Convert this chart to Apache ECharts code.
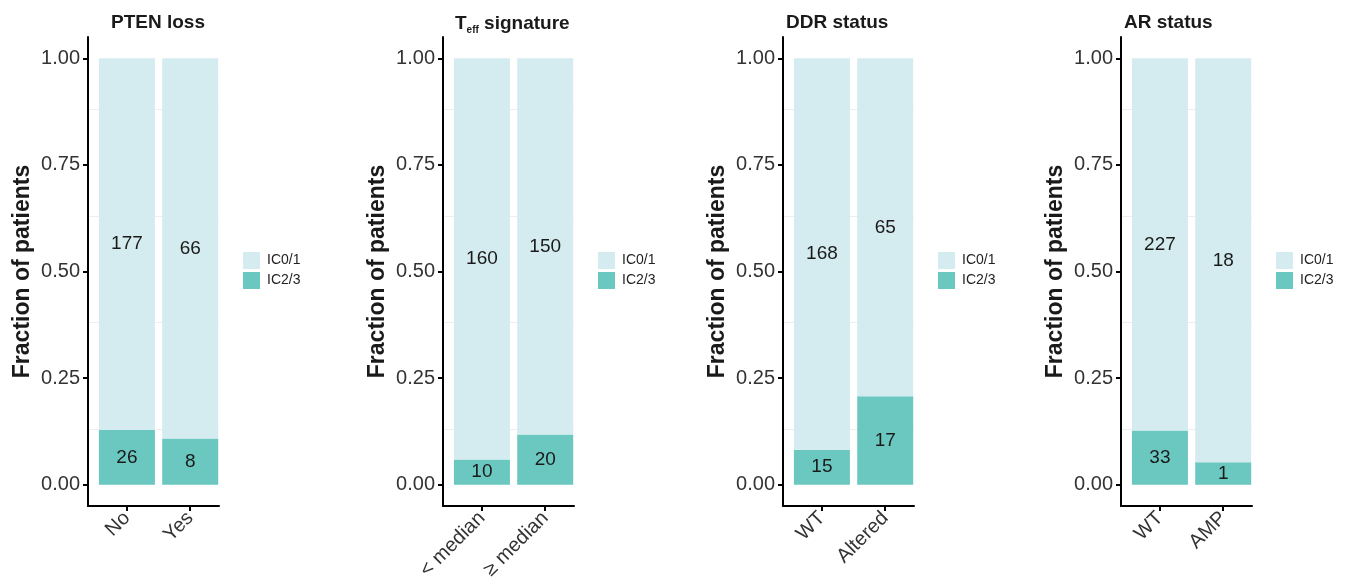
<!DOCTYPE html>
<html>
<head>
<meta charset="utf-8">
<script src="https://cdn.jsdelivr.net/npm/echarts@6/dist/echarts.min.js"></script>
<style>
  html, body { margin: 0; padding: 0; background: #ffffff; }
  #chart { width: 1348px; height: 578px; }
</style>
</head>
<body>
<div id="chart"></div>
<script>
// Panel titles (rich text for the T_eff subscript)
const panelTitles = ['PTEN loss', '{t|T}{sub|eff}{t| signature}', 'DDR status', 'AR status'];
// Categories in each panel
const categories = [
  ['No', 'Yes'],
  ['< median', '\u2265 median'],
  ['WT', 'Altered'],
  ['WT', 'AMP']
];
// Patient counts per category
const countsIC01 = [[177, 66], [160, 150], [168, 65], [227, 18]];
const countsIC23 = [[26, 8], [10, 20], [15, 17], [33, 1]];
// Y axis tick values and faint reference lines
const yTicks = [0, 0.25, 0.5, 0.75, 1];
const minorLines = [0.125, 0.375, 0.625, 0.875];
const legendNames = ['IC0/1', 'IC2/3'];

const COLOR_LOW = '#d4ecef';
const COLOR_HIGH = '#6bc8c1';
const TEXT = '#1a1a1a';
const FONT = 'Liberation Sans, Arial, sans-serif';

// layout per panel
const axisLeft = [88, 443, 783, 1121];
const titleLeft = [111, 455, 786, 1124];
const legendLeft = [243, 598, 938, 1276];
const panelWidth = 131;
const gridTop = 37;
const gridHeight = 469;

const grids = [], xAxes = [], yAxes = [], series = [], titles = [], legends = [];

categories.forEach((cats, i) => {
  const totals = cats.map((_, j) => countsIC01[i][j] + countsIC23[i][j]);
  grids.push({
    left: axisLeft[i], top: gridTop, width: panelWidth, height: gridHeight,
    outerBoundsMode: 'none', containLabel: false
  });

  xAxes.push({
    type: 'value', gridIndex: i, min: 0.385, max: 2.455,
    splitLine: { show: false },
    axisLine: { show: true, onZero: false, lineStyle: { color: '#000', width: 2 } },
    axisTick: { show: true, customValues: [1, 2], length: 5, lineStyle: { color: '#000', width: 2 } },
    axisLabel: {
      customValues: [1, 2], rotate: 45, margin: 9,
      fontSize: 20, color: '#333', fontFamily: FONT,
      formatter: v => cats[Math.round(v) - 1]
    }
  });

  yAxes.push({
    type: 'value', gridIndex: i, min: -0.05, max: 1.05,
    name: 'Fraction of patients', nameLocation: 'middle', nameRotate: 90, nameGap: 54,
    nameTextStyle: { fontSize: 23, fontWeight: 'bold', color: TEXT, fontFamily: FONT },
    splitLine: { show: false },
    axisLine: { show: true, onZero: false, lineStyle: { color: '#000', width: 2 } },
    axisTick: { show: true, customValues: yTicks, length: 5, lineStyle: { color: '#000', width: 2 } },
    axisLabel: {
      customValues: yTicks, margin: 8,
      fontSize: 20, color: '#333', fontFamily: FONT,
      formatter: v => v.toFixed(2)
    }
  });

  // faint horizontal reference lines behind the bars
  series.push({
    type: 'line', xAxisIndex: i, yAxisIndex: i, data: [], z: 0, silent: true,
    markLine: {
      silent: true, symbol: 'none', label: { show: false }, z: 0,
      lineStyle: { color: '#eeeeee', width: 1, type: 'solid' },
      data: minorLines.map(v => ({ yAxis: v }))
    }
  });

  // each row: [fraction, category position]; fraction listed first so it is the stacked dimension
  const barSeries = (name, counts, color) => ({
    name, type: 'bar', stack: 'p' + i, xAxisIndex: i, yAxisIndex: i,
    dimensions: ['frac', 'pos'],
    encode: { x: 'pos', y: 'frac' },
    barWidth: 56, z: 3,
    itemStyle: { color },
    data: cats.map((_, j) => [counts[i][j] / totals[j], j + 1]),
    label: {
      show: true, position: 'inside', fontSize: 19, color: TEXT, fontFamily: FONT,
      formatter: p => String(counts[i][p.dataIndex])
    }
  });
  series.push(barSeries('IC2/3', countsIC23, COLOR_HIGH));
  series.push(barSeries('IC0/1', countsIC01, COLOR_LOW));

  titles.push({
    text: panelTitles[i], left: titleLeft[i], top: 13, padding: 0,
    textStyle: {
      fontSize: 19, fontWeight: 'bold', color: TEXT, fontFamily: FONT,
      rich: {
        t: { fontSize: 19, fontWeight: 'bold', color: TEXT, fontFamily: FONT },
        sub: { fontSize: 10, fontWeight: 'bold', color: TEXT, fontFamily: FONT, padding: [12, 0, 0, 0] }
      }
    }
  });

  legends.push({
    data: legendNames, orient: 'vertical', left: legendLeft[i], top: 252, padding: 0,
    icon: 'rect', itemWidth: 17, itemHeight: 17, itemGap: 3,
    selectedMode: false,
    textStyle: { fontSize: 14, color: '#222', fontFamily: FONT, padding: [0, 0, 0, 2] }
  });
});

const chart = echarts.init(document.getElementById('chart'), null, { renderer: 'canvas' });
chart.setOption({
  backgroundColor: '#ffffff',
  animation: false,
  title: titles,
  legend: legends,
  grid: grids,
  xAxis: xAxes,
  yAxis: yAxes,
  series: series
});
</script>
</body>
</html>
